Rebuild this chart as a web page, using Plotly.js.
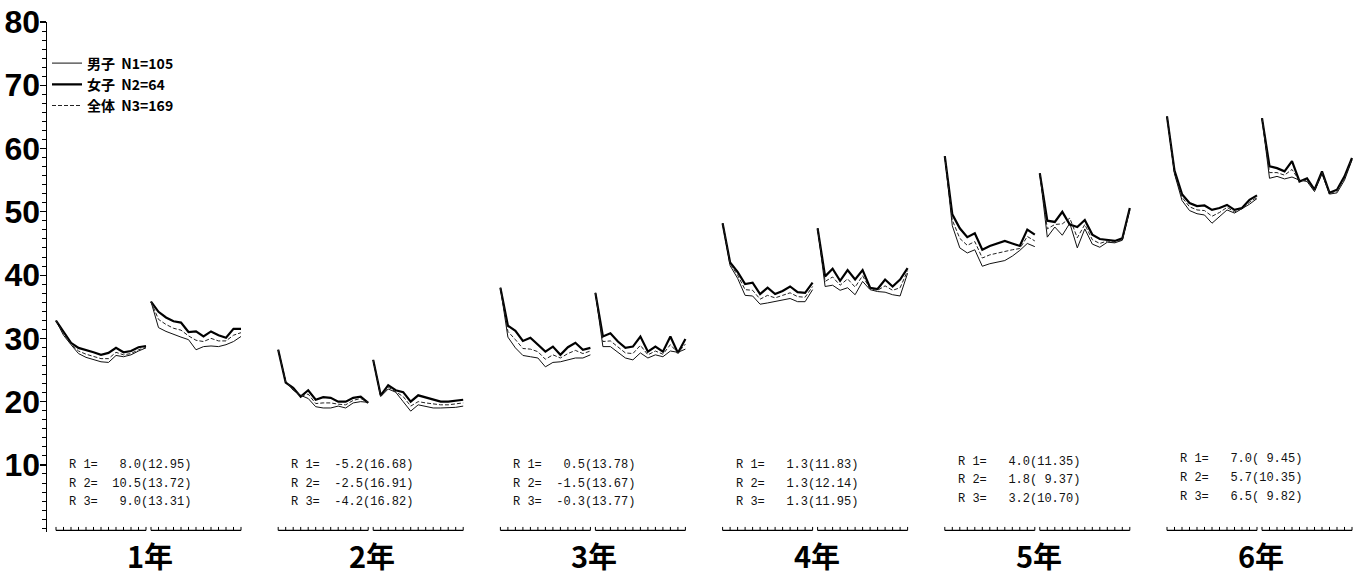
<!DOCTYPE html>
<html>
<head>
<meta charset="utf-8">
<script src="https://cdn.plot.ly/plotly-3.0.1.min.js"></script>
<style>html,body{margin:0;padding:0;background:#fff;}#chart{width:1362px;height:576px;}</style>
</head>
<body>
<div id="chart"></div>
<script>
// ---- data ----
const grades = ['1年', '2年', '3年', '4年', '5年', '6年'];
const seriesNames = ['男子', '女子', '全体'];
const seriesN = [105, 64, 169];

// each grade has two segments of 13 points (rows: 1年a,1年b,2年a,2年b,...)
const boys = [
  [32.8, 30.5, 29.0, 27.6, 27.0, 26.6, 26.3, 26.2, 27.3, 27.1, 27.4, 28.0, 28.5],
  [35.8, 31.7, 31.1, 30.6, 30.2, 29.8, 28.2, 28.7, 28.8, 28.7, 29.0, 29.5, 30.3],
  [28.2, 23.2, 21.8, 21.0, 20.5, 19.2, 19.0, 19.0, 19.3, 19.0, 19.8, 20.0, 19.9],
  [26.6, 20.8, 22.0, 21.5, 20.0, 18.5, 19.5, 19.2, 19.0, 19.0, 19.0, 19.1, 19.3],
  [38.0, 30.2, 28.5, 27.3, 27.1, 26.9, 25.5, 26.2, 26.3, 26.6, 26.9, 26.9, 27.4],
  [37.2, 28.7, 28.7, 27.8, 26.9, 26.6, 27.7, 26.9, 27.4, 27.1, 28.0, 27.8, 28.3],
  [48.2, 41.5, 39.5, 36.8, 36.7, 35.4, 35.6, 35.8, 36.1, 36.3, 35.8, 35.8, 37.7],
  [47.4, 38.2, 38.4, 37.6, 38.0, 36.9, 39.0, 37.7, 37.4, 37.3, 36.9, 36.7, 40.3],
  [58.8, 47.8, 44.3, 43.5, 44.0, 41.4, 41.8, 42.0, 42.3, 43.0, 43.9, 45.0, 44.5],
  [56.1, 46.0, 47.6, 46.3, 48.2, 44.3, 47.3, 44.9, 44.4, 45.2, 45.1, 45.5, 50.3],
  [65.1, 56.0, 51.8, 50.2, 49.7, 49.5, 48.2, 49.3, 50.3, 49.8, 50.5, 51.2, 52.1],
  [64.8, 55.3, 55.6, 55.2, 55.5, 55.0, 54.8, 53.2, 56.0, 52.8, 53.0, 55.0, 58.2]
];
const girls = [
  [32.8, 31.0, 29.3, 28.5, 28.2, 27.8, 27.4, 27.7, 28.5, 27.8, 28.0, 28.6, 28.8],
  [35.8, 34.2, 33.3, 32.7, 32.5, 31.0, 31.1, 30.3, 31.1, 30.5, 30.1, 31.5, 31.5],
  [28.2, 23.0, 22.2, 20.8, 21.8, 20.3, 20.7, 20.6, 20.0, 20.0, 20.6, 20.8, 19.8],
  [26.6, 21.0, 22.6, 21.8, 21.5, 20.0, 21.0, 20.7, 20.3, 20.0, 20.0, 20.2, 20.3],
  [38.0, 32.0, 31.2, 29.6, 30.1, 29.0, 27.9, 28.7, 27.4, 28.6, 29.3, 28.2, 28.5],
  [37.2, 30.3, 30.8, 29.5, 28.5, 28.7, 30.3, 27.9, 28.7, 27.9, 30.3, 27.7, 29.9],
  [48.2, 42.0, 40.5, 38.6, 38.8, 37.0, 38.0, 37.0, 37.5, 38.2, 37.3, 37.2, 38.8],
  [47.4, 39.8, 41.0, 39.1, 40.8, 39.3, 40.8, 38.0, 37.8, 39.3, 38.2, 39.3, 41.1],
  [58.8, 49.6, 47.4, 46.0, 46.6, 44.0, 44.6, 45.0, 45.4, 45.0, 44.6, 47.2, 46.4],
  [56.1, 48.6, 48.4, 50.0, 48.0, 47.6, 48.7, 46.4, 45.7, 45.6, 45.4, 45.8, 50.6],
  [65.1, 56.5, 52.8, 51.4, 50.9, 51.0, 50.3, 50.6, 51.1, 50.3, 50.6, 51.9, 52.6],
  [64.8, 57.2, 56.9, 56.4, 58.0, 54.8, 55.3, 53.5, 56.4, 53.0, 53.5, 55.6, 58.5]
];
const total = [
  [32.8, 30.8, 29.1, 28.0, 27.5, 27.1, 26.8, 26.8, 27.8, 27.4, 27.6, 28.2, 28.6],
  [35.8, 33.0, 32.2, 31.6, 31.3, 30.4, 29.7, 29.5, 30.0, 29.6, 29.6, 30.5, 30.9],
  [28.2, 23.1, 22.0, 20.9, 21.2, 19.7, 19.8, 19.8, 19.6, 19.5, 20.2, 20.5, 19.9],
  [26.6, 20.9, 22.3, 21.6, 20.8, 19.3, 20.0, 19.8, 19.6, 19.5, 19.5, 19.6, 19.8],
  [38.0, 31.1, 29.8, 28.4, 28.3, 27.9, 26.7, 27.4, 26.9, 27.6, 28.1, 27.6, 28.0],
  [37.2, 29.5, 29.6, 28.6, 27.7, 27.6, 28.9, 27.4, 28.0, 27.5, 29.0, 27.7, 29.1],
  [48.2, 41.8, 40.0, 37.7, 37.6, 36.2, 36.8, 36.4, 36.8, 37.2, 36.6, 36.5, 38.2],
  [47.4, 39.0, 39.7, 38.4, 39.4, 38.1, 39.9, 37.8, 37.6, 38.3, 37.6, 38.0, 40.7],
  [58.8, 48.7, 45.8, 44.7, 45.3, 42.7, 43.2, 43.5, 43.8, 44.0, 44.2, 46.1, 45.4],
  [56.1, 47.3, 48.0, 48.1, 49.0, 45.9, 48.0, 45.6, 45.0, 45.4, 45.2, 45.6, 50.4],
  [65.1, 56.2, 52.3, 50.8, 50.3, 50.2, 49.3, 49.9, 50.7, 50.0, 50.5, 51.5, 52.3],
  [64.8, 56.2, 56.2, 55.8, 56.7, 54.9, 55.0, 53.4, 56.2, 52.9, 53.3, 55.3, 58.4]
];

const r1Mean = [8.0, -5.2, 0.5, 1.3, 4.0, 7.0];
const r1Sd   = [12.95, 16.68, 13.78, 11.83, 11.35, 9.45];
const r2Mean = [10.5, -2.5, -1.5, 1.3, 1.8, 5.7];
const r2Sd   = [13.72, 16.91, 13.67, 12.14, 9.37, 10.35];
const r3Mean = [9.0, -4.2, -0.3, 1.3, 3.2, 6.5];
const r3Sd   = [13.31, 16.82, 13.77, 11.95, 10.70, 9.82];

// ---- layout helpers (x axis in pixel-like units) ----
const GROUP_START = 56, GROUP_STEP = 222.2, SEG_STEP = 95, PT_STEP = 7.5;
function segX(seg) {
  const g = Math.floor(seg / 2), s = seg % 2;
  return boys[seg].map((_, i) => GROUP_START + g * GROUP_STEP + s * SEG_STEP + i * PT_STEP);
}
function joined(rows) {
  const xs = [], ys = [];
  rows.forEach((row, seg) => {
    const sx = segX(seg);
    row.forEach((v, i) => { xs.push(sx[i]); ys.push(v); });
    xs.push(null); ys.push(null);
  });
  return {x: xs, y: ys};
}

const nb = '\u00a0';
const traces = [];
const styles = [
  {color: '#111', width: 1, dash: 'solid'},
  {color: '#000', width: 2.2, dash: 'solid'},
  {color: '#222', width: 1, dash: '4px,2px'}
];
[boys, girls, total].forEach((rows, k) => {
  const d = joined(rows);
  traces.push({
    type: 'scatter', mode: 'lines', x: d.x, y: d.y, connectgaps: false,
    name: seriesNames[k] + nb + nb + 'N' + (k + 1) + '=' + seriesN[k],
    line: styles[k], hoverinfo: 'skip'
  });
});

// baseline rulers under each segment
const bx = [], by = [], bt = [];
boys.forEach((row, seg) => {
  segX(seg).forEach(x => { bx.push(x); by.push(-0.35); bt.push(0.55); });
  bx.push(null); by.push(null); bt.push(null);
});
traces.push({
  type: 'scatter', mode: 'lines', x: bx, y: by, showlegend: false, hoverinfo: 'skip',
  line: {color: '#000', width: 1.2},
  error_y: {type: 'data', symmetric: false, array: bt, arrayminus: bt.map(v => v === null ? null : 0),
            width: 0, thickness: 1, color: '#000'}
});

// annotations
const annotations = [];
function fmt(m, sd) {
  return (m.toFixed(1)).padStart(6, ' ') + '(' + sd.toFixed(2).padStart(5, ' ') + ')';
}
const rRows = [[r1Mean, r1Sd], [r2Mean, r2Sd], [r3Mean, r3Sd]];
const rY = [10.0, 7.05, 4.1];
grades.forEach((gName, g) => {
  const gx = GROUP_START + g * GROUP_STEP;
  const lift = g === 5 ? 0.9 : (g === 4 ? 0.5 : 0);
  rRows.forEach((rr, k) => {
    const txt = ('R ' + (k + 1) + '=' + fmt(rr[0][g], rr[1][g])).replace(/ /g, nb);
    annotations.push({
      x: gx + 11, y: rY[k] + lift, xref: 'x', yref: 'y', xanchor: 'left', yanchor: 'middle',
      text: txt, showarrow: false,
      font: {family: 'Liberation Mono, DejaVu Sans Mono, monospace', size: 12, color: '#111'}
    });
  });
  annotations.push({
    x: gx + 94, y: -0.045, xref: 'x', yref: 'paper', xanchor: 'center', yanchor: 'middle',
    text: gName, showarrow: false,
    font: {family: 'Noto Sans CJK JP, Noto Sans', size: 29, color: '#000', weight: 'bold'}
  });
});

const layout = {
  width: 1362, height: 576,
  margin: {l: 47, r: 0, t: 22, b: 44},
  paper_bgcolor: '#fff', plot_bgcolor: '#fff',
  showlegend: true,
  legend: {
    x: 0.0, xanchor: 'left', y: 0.95, yanchor: 'top',
    bgcolor: 'rgba(0,0,0,0)', itemwidth: 30, tracegroupgap: 0,
    font: {family: 'Noto Sans CJK JP, Noto Sans', size: 14, color: '#000', weight: 'bold'}
  },
  xaxis: {range: [47, 1362], visible: false, fixedrange: true},
  yaxis: {
    range: [-0.6, 80], showgrid: false, zeroline: false,
    showline: true, linecolor: '#000', linewidth: 1.5,
    ticks: 'outside', ticklen: 6, tickwidth: 1.2, tickcolor: '#000',
    tickvals: [10, 20, 30, 40, 50, 60, 70, 80],
    ticktext: ['10', '20', '30', '40', '50', '60', '70', '80'],
    ticklabelstandoff: -7,
    tickfont: {family: 'Liberation Sans Narrow, Liberation Sans, Arial, sans-serif', size: 32, color: '#000', weight: 'bold'},
    minor: {dtick: 10 / 7, tick0: 0, ticks: 'outside', ticklen: 4, tickwidth: 1, tickcolor: '#000', showgrid: false}
  },
  annotations: annotations
};

Plotly.newPlot('chart', traces, layout, {displayModeBar: false, staticPlot: true});
</script>
</body>
</html>
